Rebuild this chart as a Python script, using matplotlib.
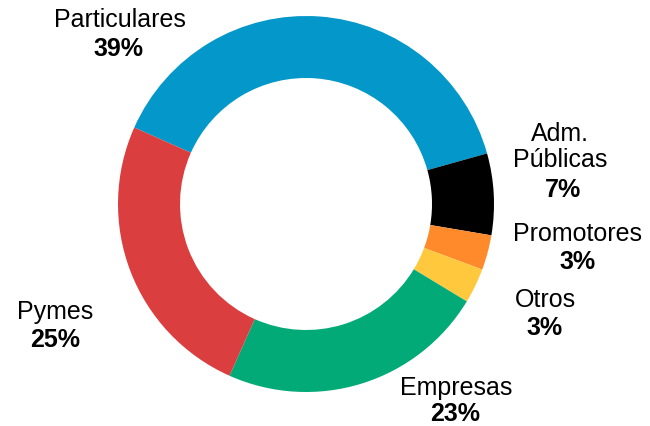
"""Donut: reparto por tipo de cliente."""

import matplotlib.pyplot as plt

plt.rcParams.update({"font.family": ["Liberation Sans", "DejaVu Sans"]})

W, H = 650, 427

segments = ["Particulares", "Adm.\nPúblicas", "Promotores", "Otros", "Empresas", "Pymes"]
shares = [39, 7, 3, 3, 23, 25]
colors = ["#0398C9", "#000000", "#FF8A2B", "#FFC83D", "#02AA78", "#DB3E3E"]

# label anchor points in pixel coords (x, y from top) for name / percentage
name_pos = [(120, 20), (560, 147), (578, 234), (545, 300), (456, 388), (55, 312)]
pct_pos = [(118, 49), (563, 190), (578, 262), (545, 328), (455, 414), (55, 340)]


def main() -> None:
    fig = plt.figure(figsize=(W / 100, H / 100), dpi=100)
    ax = fig.add_axes([0, 0, 1, 1])

    ax.pie(shares, colors=colors, startangle=156, counterclock=False,
           center=(306, H - 205), radius=188, frame=True,
           wedgeprops=dict(width=62, linewidth=0))
    ax.set_xlim(0, W)
    ax.set_ylim(0, H)
    ax.set_aspect("equal")
    ax.axis("off")

    for name, pct, (nx, ny), (px, py) in zip(segments, shares, name_pos, pct_pos):
        ax.text(nx, H - ny, name, ha="center", va="center", fontsize=18,
                color="#000000", linespacing=1.15)
        ax.text(px, H - py, f"{pct}%", ha="center", va="center", fontsize=18,
                weight="bold", color="#000000")

    fig.savefig("out.png", dpi=100)
    plt.close(fig)


if __name__ == "__main__":
    main()
